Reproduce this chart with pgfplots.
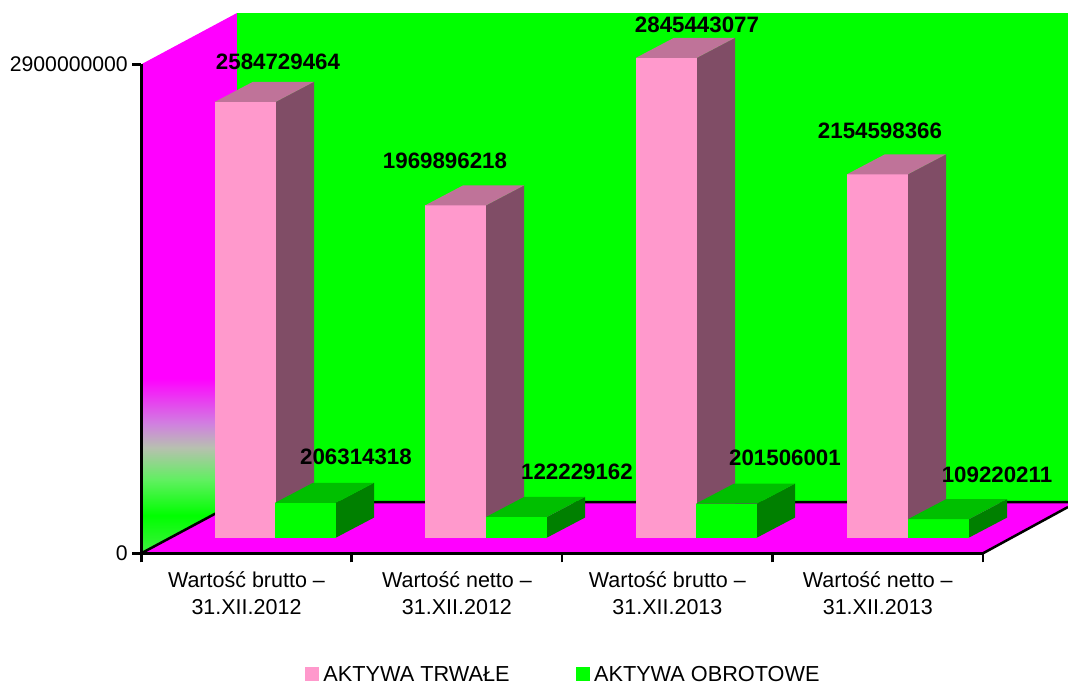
\documentclass[border=0pt]{standalone}
\usepackage{fontspec}
\setmainfont{Liberation Sans}
\usepackage{pgfplots}
\pgfplotsset{compat=1.18}

\definecolor{trwale}{HTML}{FF99CC}
\definecolor{trwaleside}{HTML}{804D66}
\definecolor{trwaletop}{HTML}{BF7399}
\definecolor{obrot}{HTML}{00FF00}
\definecolor{obrotside}{HTML}{008000}
\definecolor{obrottop}{HTML}{00BF00}
\definecolor{wall}{HTML}{FF00FF}
\definecolor{fadea}{HTML}{40F040}
\definecolor{fadeb}{HTML}{60F060}
\definecolor{fadec}{HTML}{B8C0B0}
\definecolor{faded}{HTML}{D080E0}

% side wall fade, bottom to top
\pgfdeclareverticalshading{wallfade}{100bp}{
  color(0bp)=(fadea);
  color(25bp)=(fadea);
  color(28.5bp)=(obrot);
  color(31.8bp)=(fadeb);
  color(34.8bp)=(fadec);
  color(37bp)=(faded);
  color(41.2bp)=(wall);
  color(100bp)=(wall)}

\newcommand{\labfont}{\fontsize{22.3}{24}\selectfont\bfseries}

% one 3D bar: x left, value, front, side, top, label x, label rise
\newcommand{\solidbar}[7]{%
  \begingroup
  \pgfkeys{/pgf/fpu=true,/pgf/fpu/output format=fixed}%
  \pgfmathparse{#2+93100000}\xdef\ytop{\pgfmathresult}%
  \pgfmathparse{#2+93100000+118600000}\xdef\ydeep{\pgfmathresult}%
  \endgroup
  \pgfmathsetmacro\xr{#1+61}%
  \pgfmathsetmacro\xa{#1+38}%
  \pgfmathsetmacro\xb{#1+99}%
  \addplot[fill=#3,draw=none,forget plot] coordinates
    {(#1,93100000) (\xr,93100000) (\xr,\ytop) (#1,\ytop)} --cycle;
  \addplot[fill=#4,draw=none,forget plot] coordinates
    {(\xr,93100000) (\xb,211700000) (\xb,\ydeep) (\xr,\ytop)} --cycle;
  \addplot[fill=#5,draw=none,forget plot] coordinates
    {(#1,\ytop) (\xr,\ytop) (\xb,\ydeep) (\xa,\ydeep)} --cycle;
  % nodes in an axis are deferred, so \ytop has to be expanded here
  \edef\barlabel{\noexpand\node[font=\noexpand\labfont,inner sep=0pt,yshift=#7pt]
    at (axis cs:#6,\ytop) {#2};}%
  \barlabel
}

\begin{document}
\begin{tikzpicture}
\path[use as bounding box] (0pt,0pt) rectangle (1068pt,682pt);
\begin{axis}[
    at={(141.3pt,128.7pt)},
    anchor=south west,
    scale only axis,
    width=841.7pt,
    height=489pt,
    clip=false,
    axis on top,
    axis x line*=bottom,
    axis y line*=left,
    axis line style={line width=2.5pt},
    xmin=141.3, xmax=983,
    ymin=0, ymax=2900000000,
    scaled y ticks=false,
    xtick={141.3,351.7,562.2,772.6,983},
    x tick label as interval,
    xticklabels={{Wartość brutto --\\31.XII.2012},{Wartość netto --\\31.XII.2012},
                 {Wartość brutto --\\31.XII.2013},{Wartość netto --\\31.XII.2013}},
    ytick={0,2900000000},
    yticklabels={0,2900000000},
    tick align=outside,
    major tick length=9pt,
    tick style={black,line width=2.5pt},
    xticklabel style={align=center,font=\fontsize{21.5}{27}\selectfont,yshift=-6pt},
    yticklabel style={font=\fontsize{21.2}{24}\selectfont,xshift=-1pt},
    legend style={at={(0.5013,-0.2478)},anchor=center,draw=none,fill=none,
      font=\fontsize{21.7}{24}\selectfont,legend columns=2,
      /tikz/every even column/.append style={column sep=64pt},
      /tikz/every odd column/.append style={column sep=2.5pt}},
    legend cell align={left},
    legend image code/.code={\fill[#1] (0pt,-7pt) rectangle (14pt,7pt);},
]

% side wall, back wall, floor
\addplot[shading=wallfade,draw=none,forget plot] coordinates
  {(141.3,0) (141.3,2900000000) (237,3204200000) (237,304200000)} --cycle;
\addplot[fill=obrot,draw=none,forget plot] coordinates
  {(237,304200000) (237,3204200000) (1068,3204200000) (1068,304200000)} --cycle;
\addplot[fill=wall,draw=none,forget plot] coordinates
  {(141.3,0) (983,0) (1068,274600000) (1068,304200000) (237,304200000)} --cycle;
\addplot[black,line width=2.5pt,forget plot] coordinates
  {(141.3,0) (237,304200000) (1068,304200000)};
\addplot[black,line width=2.5pt,forget plot] coordinates
  {(983,0) (1068,274600000)};

\solidbar{215}{2584729464}{trwale}{trwaleside}{trwaletop}{278}{40}
\solidbar{275}{206314318}{obrot}{obrotside}{obrottop}{356}{46}
\solidbar{425}{1969896218}{trwale}{trwaleside}{trwaletop}{445}{45}
\solidbar{486}{122229162}{obrot}{obrotside}{obrottop}{577}{45}
\solidbar{636}{2845443077}{trwale}{trwaleside}{trwaletop}{697}{33}
\solidbar{696}{201506001}{obrot}{obrotside}{obrottop}{785}{46}
\solidbar{847}{2154598366}{trwale}{trwaleside}{trwaletop}{880}{43}
\solidbar{908}{109220211}{obrot}{obrotside}{obrottop}{997}{44}

\addlegendimage{fill=trwale,draw=none}
\addlegendentry{AKTYWA TRWAŁE}
\addlegendimage{fill=obrot,draw=none}
\addlegendentry{AKTYWA OBROTOWE}

\end{axis}
\end{tikzpicture}
\end{document}
